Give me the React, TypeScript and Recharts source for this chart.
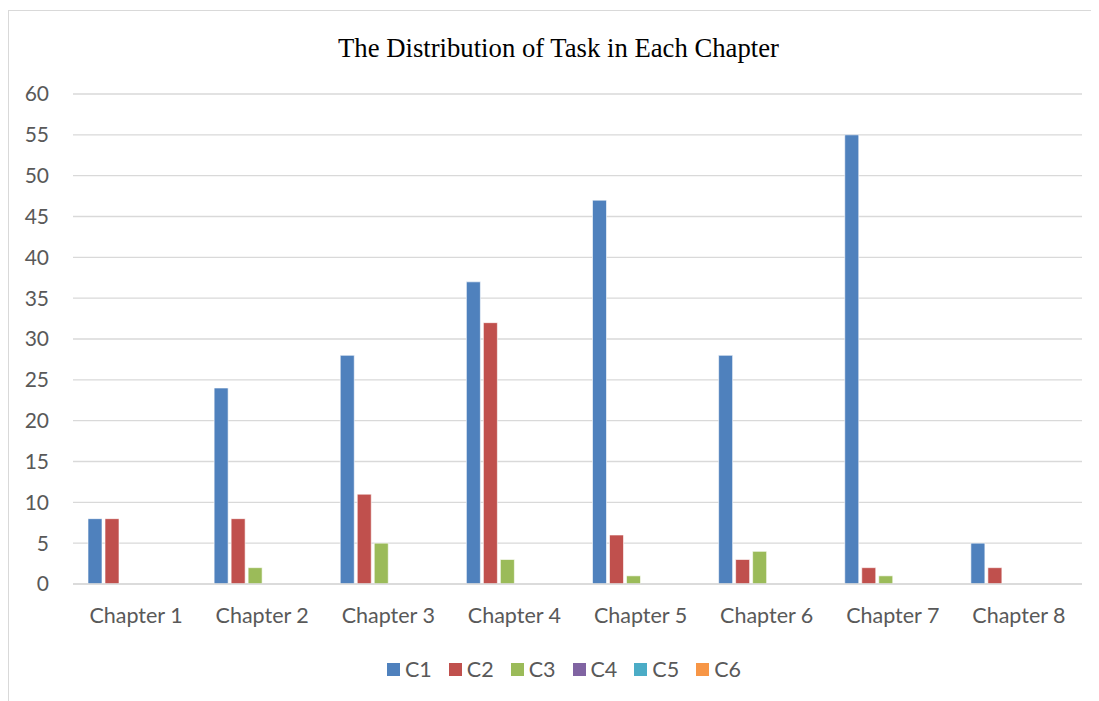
import { Bar, BarChart, CartesianGrid, Legend, XAxis, YAxis } from "recharts";

const chapters = ["Chapter 1", "Chapter 2", "Chapter 3", "Chapter 4", "Chapter 5", "Chapter 6", "Chapter 7", "Chapter 8"];
const c1 = [8, 24, 28, 37, 47, 28, 55, 5];
const c2 = [8, 8, 11, 32, 6, 3, 2, 2];
const c3 = [0, 2, 5, 3, 1, 4, 1, 0];
const c4 = [0, 0, 0, 0, 0, 0, 0, 0];
const c5 = [0, 0, 0, 0, 0, 0, 0, 0];
const c6 = [0, 0, 0, 0, 0, 0, 0, 0];
const yTicks = [0, 5, 10, 15, 20, 25, 30, 35, 40, 45, 50, 55, 60];

const seriesNames = ["C1", "C2", "C3", "C4", "C5", "C6"];
const seriesColors = ["#4F81BD", "#C0504D", "#9BBB59", "#8064A2", "#4BACC6", "#F79646"];
const seriesValues = [c1, c2, c3, c4, c5, c6];

const data = chapters.map((name, i) => {
  const row: Record<string, string | number> = { name };
  seriesNames.forEach((s, j) => {
    row[s] = seriesValues[j][i];
  });
  return row;
});

const FONT = "Lato, 'Noto Sans', sans-serif";

function ChartLegend() {
  return (
    <div
      style={{
        display: "flex",
        justifyContent: "center",
        gap: 17,
        paddingLeft: 37,
        fontFamily: FONT,
        fontSize: 21.5,
        color: "#595959",
        lineHeight: "24px",
      }}
    >
      {seriesNames.map((s, i) => (
        <div key={s} style={{ display: "flex", alignItems: "center" }}>
          <span style={{ display: "inline-block", width: 13, height: 13, background: seriesColors[i], marginRight: 5 }} />
          <span>{s}</span>
        </div>
      ))}
    </div>
  );
}

export default function App() {
  return (
    <div
      style={{
        position: "relative",
        width: 1089,
        height: 690,
        marginTop: 2,
        border: "1px solid #d9d9d9",
        background: "#fff",
      }}
    >
      <div
        style={{
          position: "absolute",
          top: 22,
          left: 5,
          width: "100%",
          textAlign: "center",
          fontFamily: "'Liberation Serif', 'Times New Roman', serif",
          fontSize: 26.7,
          color: "#000",
        }}
      >
        The Distribution of Task in Each Chapter
      </div>
      <BarChart
        width={1089}
        height={690}
        data={data}
        margin={{ top: 83, right: 16, left: 0, bottom: 33 }}
        barCategoryGap={15}
        barGap={3}
      >
        <CartesianGrid vertical={false} stroke="#d9d9d9" strokeWidth={1.3} />
        <XAxis
          dataKey="name"
          axisLine={{ stroke: "#d9d9d9", strokeWidth: 1.3 }}
          tickLine={false}
          tickSize={0}
          tickMargin={24}
          height={60}
          tick={{ fill: "#595959", fontSize: 21.5, fontFamily: FONT }}
        />
        <YAxis
          width={64}
          domain={[0, 60]}
          ticks={yTicks}
          axisLine={false}
          tickLine={false}
          tickSize={0}
          tickMargin={24}
          interval={0}
          tick={{ fill: "#595959", fontSize: 21, fontFamily: FONT }}
        />
        <Legend content={<ChartLegend />} wrapperStyle={{ top: 646 }} />
        {seriesNames.map((s, i) => (
          <Bar
            key={s}
            dataKey={s}
            fill={seriesColors[i]}
            stroke="#ffffff"
            strokeWidth={0.6}
            isAnimationActive={false}
          />
        ))}
      </BarChart>
    </div>
  );
}
